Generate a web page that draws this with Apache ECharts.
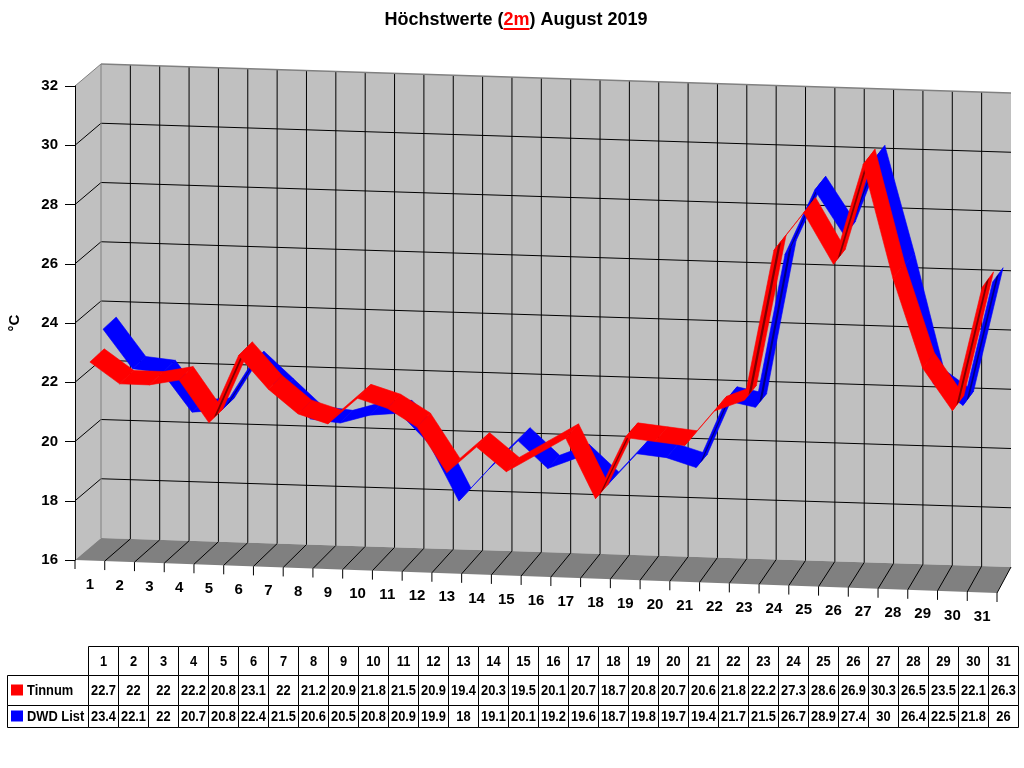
<!DOCTYPE html>
<html>
<head>
<meta charset="utf-8">
<script src="https://cdn.jsdelivr.net/npm/echarts@6/dist/echarts.min.js"></script>
<style>
html, body { margin: 0; background: #fff; }
#chart { width: 1024px; height: 768px; }
</style>
</head>
<body>
<div id="chart"></div>
<script>
// Höchstwerte (2m) August 2019
const days = ['1', '2', '3', '4', '5', '6', '7', '8', '9', '10', '11', '12', '13', '14', '15', '16',
    '17', '18', '19', '20', '21', '22', '23', '24', '25', '26', '27', '28', '29', '30', '31'];
const yTicks = [16, 18, 20, 22, 24, 26, 28, 30, 32];
const seriesNames = ['Tinnum', 'DWD List'];
const tinnum = [22.7, 22, 22, 22.2, 20.8, 23.1, 22, 21.2, 20.9, 21.8, 21.5, 20.9, 19.4, 20.3, 19.5, 20.1,
    20.7, 18.7, 20.8, 20.7, 20.6, 21.8, 22.2, 27.3, 28.6, 26.9, 30.3, 26.5, 23.5, 22.1, 26.3];
const dwdList = [23.4, 22.1, 22, 20.7, 20.8, 22.4, 21.5, 20.6, 20.5, 20.8, 20.9, 19.9, 18, 19.1, 20.1, 19.2,
    19.6, 18.7, 19.8, 19.7, 19.4, 21.7, 21.5, 26.7, 28.9, 27.4, 30, 26.4, 22.5, 21.8, 26];

const FONT = '"Liberation Sans", Arial, sans-serif';
// pseudo 3d: front plane goes down to the right, depth goes up-right
const SHEAR = 33;
const DEPTH_X = [26, 14];
const RIBBON_DEPTH_X = [24, 19];
const DEPTH_Y = [-22, -26];
const rowEdges = [0, 29, 59, 81]; // table rows (px inside table grid)

function project(pt, z, x0, fw, depthX) {
    const dxs = depthX || DEPTH_X;
    const u = (pt[0] - x0) / fw;
    const dx = dxs[0] + (dxs[1] - dxs[0]) * u;
    const dy = DEPTH_Y[0] + (DEPTH_Y[1] - DEPTH_Y[0]) * u;
    return [pt[0] + z * dx, pt[1] + SHEAR * u + z * dy];
}
function frame(api) {
    const band = api.size([1, 0])[0];
    const x0 = api.coord([0, yTicks[0]])[0] - band / 2;
    return { band: band, x0: x0, fw: band * days.length };
}
function poly(points, fill, stroke) {
    return { type: 'polygon', shape: { points: points },
        style: { fill: fill, stroke: stroke || null, lineWidth: stroke ? 0.6 : 0 } };
}
function seg(p, q, color, w) {
    return { type: 'line', shape: { x1: p[0], y1: p[1], x2: q[0], y2: q[1] },
        style: { stroke: color, lineWidth: w || 1 } };
}

function renderScene(params, api) {
    const f = frame(api);
    const P = (x, y, z) => project([x, y], z, f.x0, f.fw);
    const yb = api.coord([0, yTicks[0]])[1];
    const yt = api.coord([0, yTicks[yTicks.length - 1]])[1];
    const xr = f.x0 + f.fw;
    const c = [];
    c.push(poly([P(f.x0, yb, 1), P(xr, yb, 1), P(xr, yt, 1), P(f.x0, yt, 1)], '#c0c0c0'));
    c.push(poly([P(f.x0, yb, 0), P(f.x0, yt, 0), P(f.x0, yt, 1), P(f.x0, yb, 1)], '#c0c0c0'));
    c.push(poly([P(f.x0, yb, 0), P(xr, yb, 0), P(xr, yb, 1), P(f.x0, yb, 1)], '#808080'));
    yTicks.forEach(function (v, k) {
        if (k === 0 || k === yTicks.length - 1) return;
        const y = api.coord([0, v])[1];
        c.push(seg(P(f.x0, y, 1), P(xr, y, 1), '#000'));
        c.push(seg(P(f.x0, y, 0), P(f.x0, y, 1), '#000'));
    });
    for (let i = 1; i < days.length; i++) {
        const x = f.x0 + i * f.band;
        c.push(seg(P(x, yb, 1), P(x, yt, 1), '#000'));
    }
    for (let i = 1; i <= days.length; i++) {
        const x = f.x0 + i * f.band;
        c.push(seg(P(x, yb, 0), P(x, yb, 1), '#000'));
    }
    c.push(seg(P(f.x0, yt, 0), P(f.x0, yt, 1), '#808080'));
    c.push(seg(P(f.x0, yt, 1), P(xr, yt, 1), '#808080', 1.5));
    c.push(seg(P(f.x0, yb, 1), P(f.x0, yt, 1), '#808080'));
    // front ticks + day labels
    for (let i = 0; i <= days.length; i++) {
        const p = P(f.x0 + i * f.band, yb, 0);
        c.push(seg(p, [p[0], p[1] + 9], '#000'));
    }
    days.forEach(function (d, i) {
        const p = P(api.coord([i, yTicks[0]])[0], yb, 0);
        c.push({ type: 'text', style: { text: d, x: p[0], y: p[1] + 24, align: 'center', verticalAlign: 'middle',
            fontSize: 15, fontWeight: 'bold', fontFamily: FONT, fill: '#000' } });
    });
    return { type: 'group', children: c };
}

function ribbon(z0, z1, color, dark) {
    return function (params, api) {
        const f = frame(api);
        const pr = (pt, z) => project(pt, z, f.x0, f.fw, RIBBON_DEPTH_X);
        const a = api.coord([api.value(0), api.value(1)]);
        const b = api.coord([api.value(2), api.value(3)]);
        const A0 = pr(a, z0), B0 = pr(b, z0), A1 = pr(a, z1), B1 = pr(b, z1);
        const c = [poly([A0, B0, B1, A1], color, color)];
        const cross = (B0[0] - A0[0]) * (A1[1] - A0[1]) - (B0[1] - A0[1]) * (A1[0] - A0[0]);
        if (cross > 0) {
            // underside visible on rising parts
            const za = z0 + (z1 - z0) * 0.35, zb = z0 + (z1 - z0) * 0.6;
            c.push(poly([pr(a, za), pr(b, za), pr(b, zb), pr(a, zb)], dark));
        }
        return { type: 'group', children: c };
    };
}

function segments(vals) {
    return vals.slice(0, -1).map((v, i) => [i, v, i + 1, vals[i + 1]]);
}

function renderTable(params, api) {
    const i = api.value(0);
    const band = api.size([1, 0])[0];
    const xl = api.coord([i, 0])[0] - band / 2;
    const ys = rowEdges.map(r => api.coord([i, r])[1]);
    const txt = (t, x, y, align) => ({ type: 'text', x: x, y: y, scaleX: 0.92, scaleY: 1.1,
        style: { text: t, x: 0, y: 0, align: align || 'center', verticalAlign: 'middle',
            fontSize: 14, fontWeight: 'bold', fontFamily: FONT, fill: '#000' } });
    const cell = (x, y, w, h) => ({ type: 'rect', shape: { x: x + 0.5, y: y + 0.5, width: w, height: h },
        style: { fill: '#fff', stroke: '#000', lineWidth: 1 } });
    const c = [];
    const texts = [days[i], String(api.value(1)), String(api.value(2))];
    for (let r = 0; r < 3; r++) {
        c.push(cell(xl, ys[r], band, ys[r + 1] - ys[r]));
        c.push(txt(texts[r], xl + band / 2 + 0.5, (ys[r] + ys[r + 1]) / 2 + 1));
    }
    if (i === 0) {
        const colors = ['#ff0000', '#0000ff'];
        for (let r = 1; r < 3; r++) {
            const mid = (ys[r] + ys[r + 1]) / 2;
            c.push(cell(7, ys[r], xl - 7, ys[r + 1] - ys[r]));
            c.push({ type: 'rect', shape: { x: 11, y: mid - 5.5, width: 12, height: 11 }, style: { fill: colors[r - 1] } });
            c.push(txt(seriesNames[r - 1], 27, mid + 1, 'left'));
        }
    }
    return { type: 'group', children: c };
}

const chart = echarts.init(document.getElementById('chart'));

// title with red underlined "2m"
const titleParts = ['Höchstwerte (', '2m', ') August 2019'];
const titleFont = 'bold 18px ' + FONT;
const mctx = document.createElement('canvas').getContext('2d');
mctx.font = titleFont;
const widths = titleParts.map(t => mctx.measureText(t).width);
let tx = 516 - widths.reduce((s, w) => s + w, 0) / 2;
const titleEls = [];
titleParts.forEach(function (t, k) {
    titleEls.push({ type: 'text', x: tx, y: 20, style: { text: t, font: titleFont,
        fill: k === 1 ? '#ff0000' : '#000', verticalAlign: 'middle' } });
    if (k === 1) {
        titleEls.push({ type: 'rect', shape: { x: tx, y: 28, width: widths[k], height: 2 }, style: { fill: '#ff0000' } });
    }
    tx += widths[k];
});

chart.setOption({
    animation: false,
    backgroundColor: '#fff',
    graphic: titleEls,
    grid: [
        { left: 75, top: 86, width: 922, height: 474, outerBoundsMode: 'none' },
        { left: 88, top: 646, width: 930, height: 81, outerBoundsMode: 'none' }
    ],
    xAxis: [
        { type: 'category', gridIndex: 0, data: days, boundaryGap: true, show: false },
        { type: 'category', gridIndex: 1, data: days, boundaryGap: true, show: false }
    ],
    yAxis: [
        {
            type: 'value', gridIndex: 0, min: 16, max: 32, interval: 2, z: 10,
            name: '°C', nameLocation: 'middle', nameGap: 53, nameRotate: 90,
            nameTextStyle: { fontSize: 15, fontWeight: 'bold', color: '#000', fontFamily: FONT },
            axisLine: { show: true, lineStyle: { color: '#000', width: 1 } },
            axisTick: { show: true, length: 10, lineStyle: { color: '#000' } },
            axisLabel: { fontSize: 15, fontWeight: 'bold', color: '#000', margin: 17, fontFamily: FONT },
            splitLine: { show: false }
        },
        { type: 'value', gridIndex: 1, min: 0, max: 81, inverse: true, show: false }
    ],
    series: [
        { type: 'custom', name: 'scene', silent: true, z: 1, xAxisIndex: 0, yAxisIndex: 0,
            renderItem: renderScene, data: [[0, 16]] },
        { type: 'custom', name: seriesNames[1], silent: true, z: 2, xAxisIndex: 0, yAxisIndex: 0,
            renderItem: ribbon(0.55, 1.1, '#0000ff', '#000080'), data: segments(dwdList) },
        { type: 'custom', name: seriesNames[0], silent: true, z: 3, xAxisIndex: 0, yAxisIndex: 0,
            renderItem: ribbon(0, 0.6, '#ff0000', '#800000'), data: segments(tinnum) },
        { type: 'custom', name: 'table', silent: true, z: 4, xAxisIndex: 1, yAxisIndex: 1,
            renderItem: renderTable, data: days.map((d, i) => [i, tinnum[i], dwdList[i]]) }
    ]
});
</script>
</body>
</html>
